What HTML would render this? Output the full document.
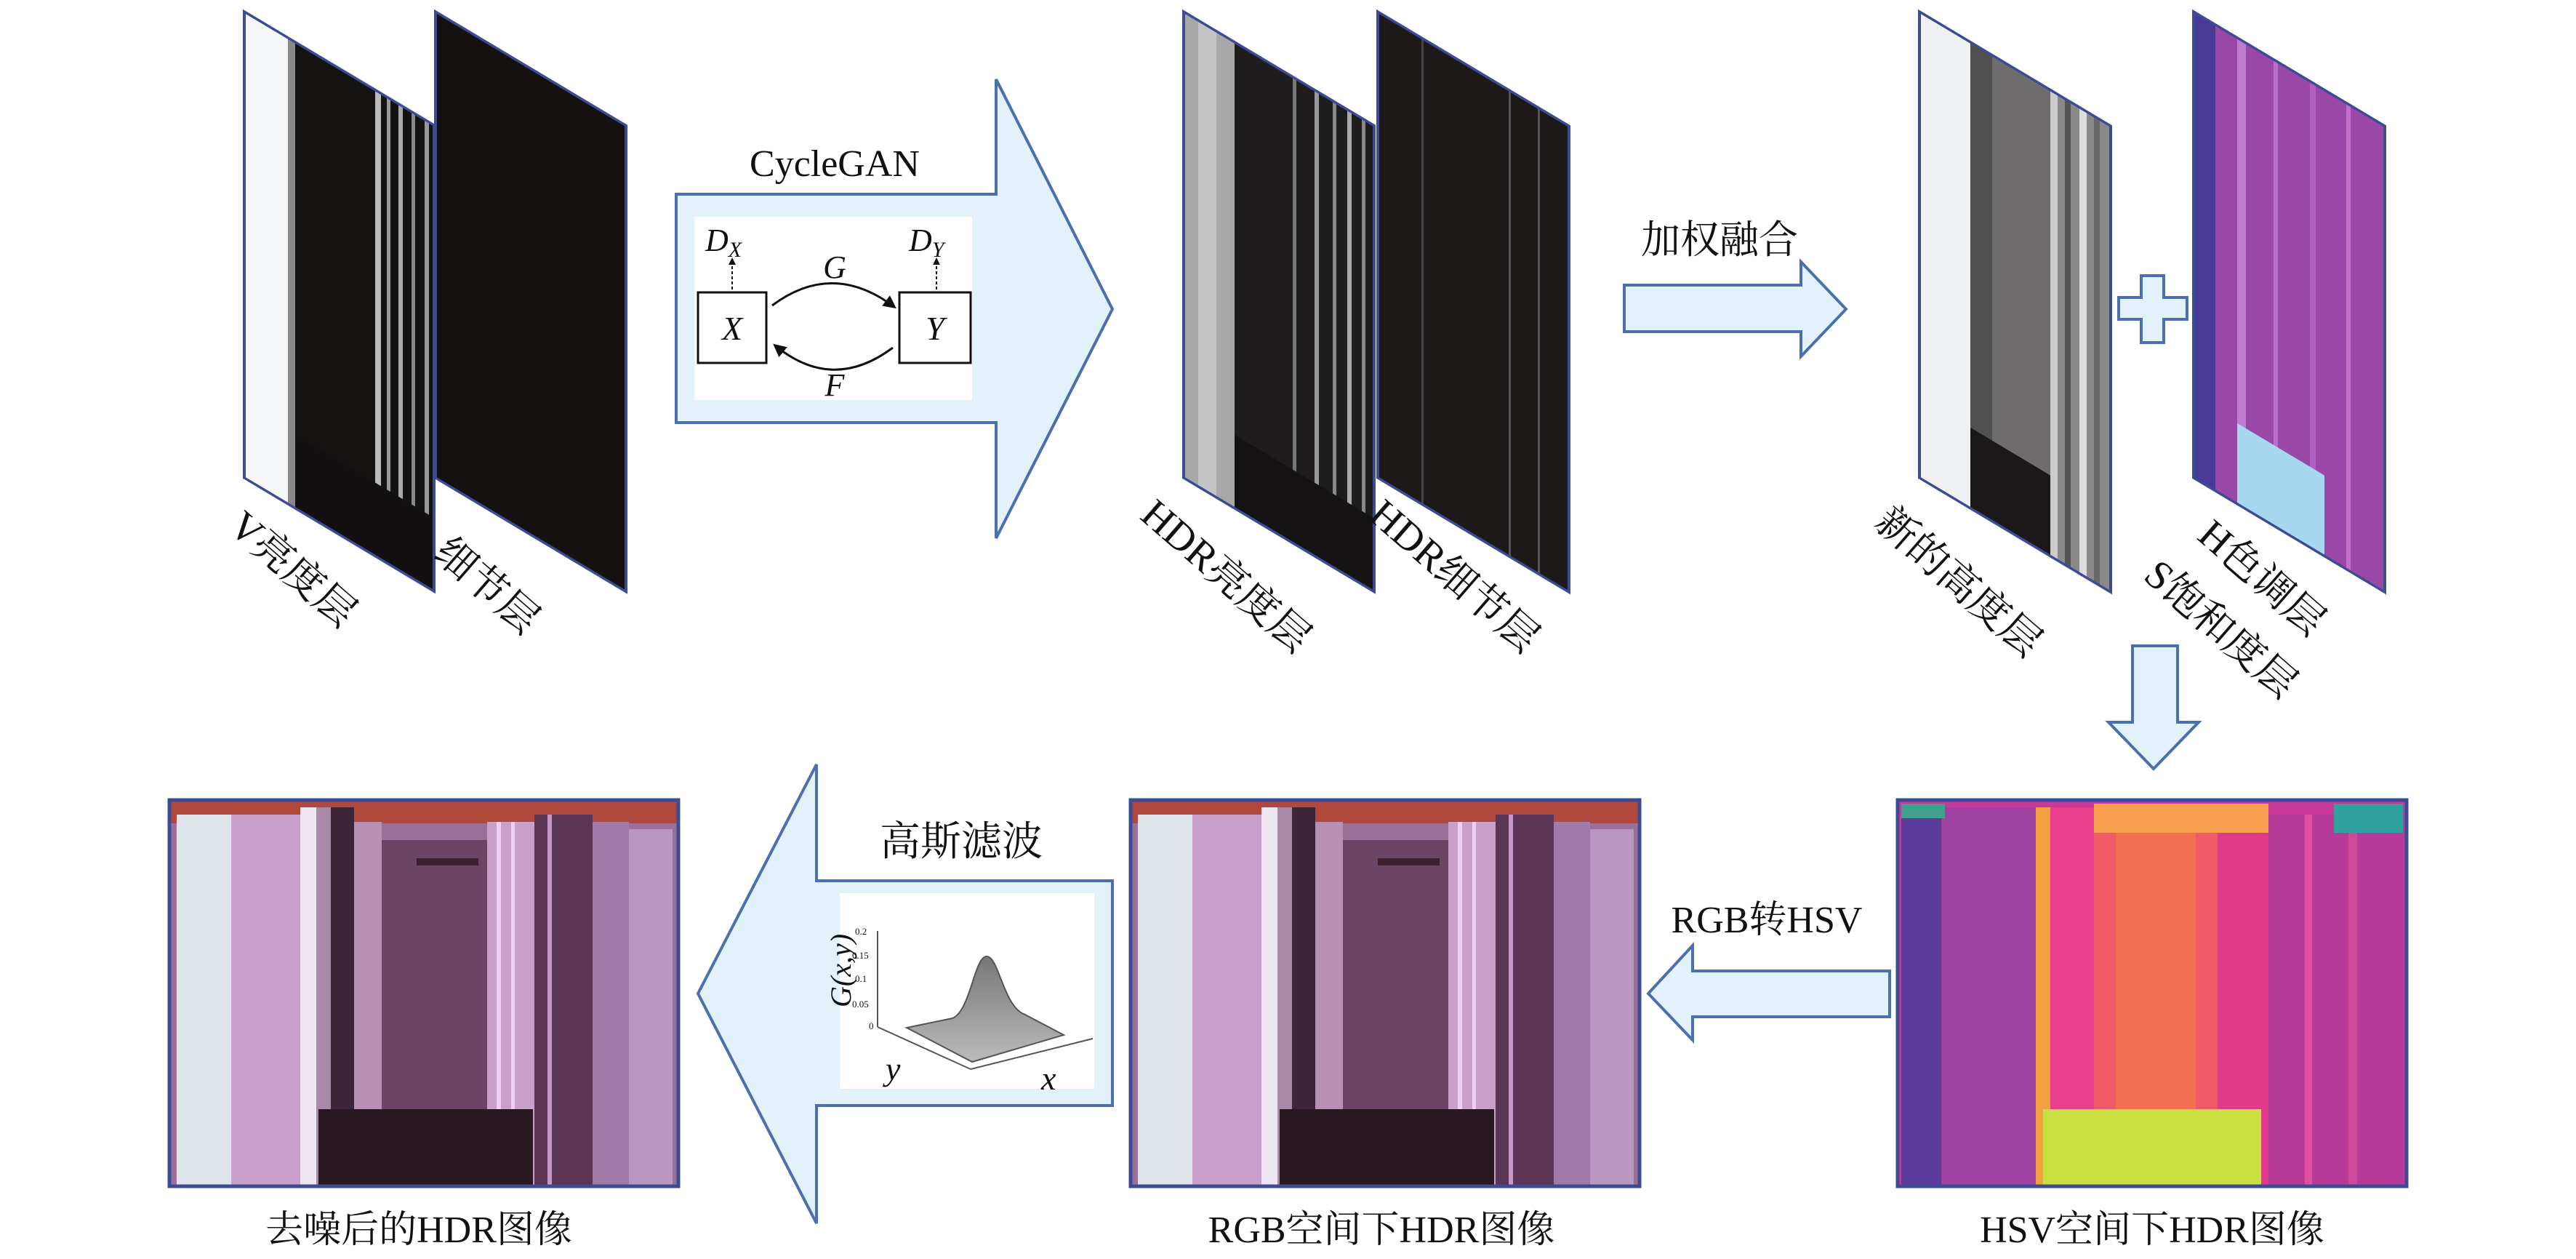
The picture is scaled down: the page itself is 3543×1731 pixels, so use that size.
<!DOCTYPE html>
<html><head><meta charset="utf-8"><style>
html,body{margin:0;padding:0;background:#fff;}
svg{display:block;}
text{font-family:"Liberation Serif","Noto Serif CJK SC",serif;fill:#111;}
.lbl{font-size:52px;}
.pl{font-size:56px;}
.it{font-style:italic;}
</style></head><body>
<svg width="3543" height="1731" viewBox="0 0 3543 1731" xmlns="http://www.w3.org/2000/svg">
<defs>
<marker id="ah" viewBox="0 0 10 10" refX="8" refY="5" markerWidth="6" markerHeight="6" orient="auto"><path d="M0,0 L10,5 L0,10 z" fill="#111"/></marker>
<marker id="ah2" viewBox="0 0 10 10" refX="8" refY="5" markerWidth="5" markerHeight="5" orient="auto"><path d="M0,0 L10,5 L0,10 z" fill="#111"/></marker>
<linearGradient id="bump" x1="0" y1="0" x2="0" y2="1"><stop offset="0" stop-color="#777"/><stop offset="1" stop-color="#bbb"/></linearGradient>
<g id="rgbimg">
<rect x="0" y="0" width="700" height="530" fill="#9a7098"/>
<rect x="0" y="0" width="700" height="32" fill="#b0483c"/>
<rect x="10" y="20" width="75" height="510" fill="#dfe3ea"/>
<rect x="85" y="20" width="95" height="510" fill="#c8a0cc"/>
<rect x="180" y="10" width="22" height="520" fill="#eee6f0"/>
<rect x="202" y="10" width="20" height="520" fill="#a88aa8"/>
<rect x="222" y="10" width="32" height="520" fill="#3e2438"/>
<rect x="254" y="30" width="38" height="500" fill="#b890b4"/>
<rect x="292" y="55" width="145" height="475" fill="#6a4565"/>
<rect x="437" y="30" width="65" height="500" fill="#c8a0c8"/>
<rect x="450" y="30" width="6" height="500" fill="#f0d0f0"/>
<rect x="470" y="30" width="5" height="500" fill="#f0d0f0"/>
<rect x="502" y="20" width="80" height="510" fill="#5a3555"/>
<rect x="520" y="20" width="6" height="510" fill="#c898c8"/>
<rect x="582" y="30" width="50" height="500" fill="#a07aa8"/>
<rect x="632" y="40" width="60" height="490" fill="#b898c0"/>
<rect x="205" y="425" width="295" height="105" fill="#2a1820"/>
<rect x="340" y="80" width="85" height="10" fill="#3a2030"/>
</g>
</defs>

<!-- Top panels -->
<g transform="matrix(1,0.5977,0,1,336,16)">
<rect width="261" height="641" fill="#151212"/>
<rect width="60" height="641" fill="#f4f6f8"/>
<rect x="60" width="10" height="641" fill="#888"/>
<rect x="180" width="8" height="641" fill="#bbb"/>
<rect x="196" width="5" height="641" fill="#999"/>
<rect x="212" width="6" height="641" fill="#aaa"/>
<rect x="230" width="5" height="641" fill="#888"/>
<rect x="248" width="6" height="641" fill="#999"/>
<rect x="70" y="540" width="191" height="101" fill="#121010"/>
<rect width="261" height="641" fill="none" stroke="#3d4b95" stroke-width="4"/>
</g>
<g transform="matrix(1,0.5977,0,1,599,16)">
<rect width="262" height="641" fill="#151110"/>
<rect width="262" height="641" fill="none" stroke="#3d4b95" stroke-width="4"/>
</g>
<g transform="matrix(1,0.5977,0,1,1628,16)">
<rect width="262" height="641" fill="#1e1c1c"/>
<rect width="70" height="641" fill="#a8a8a8"/>
<rect x="20" width="25" height="641" fill="#c4c4c4"/>
<rect x="150" width="5" height="641" fill="#777"/>
<rect x="180" width="6" height="641" fill="#999"/>
<rect x="205" width="5" height="641" fill="#888"/>
<rect x="225" width="6" height="641" fill="#aaa"/>
<rect x="245" width="5" height="641" fill="#888"/>
<rect x="70" y="540" width="192" height="101" fill="#141212"/>
<rect width="262" height="641" fill="none" stroke="#3d4b95" stroke-width="4"/>
</g>
<g transform="matrix(1,0.5977,0,1,1895,16)">
<rect width="263" height="641" fill="#1c1918"/>
<rect x="60" width="3" height="641" fill="#444"/>
<rect x="180" width="3" height="641" fill="#555"/>
<rect x="220" width="3" height="641" fill="#555"/>
<rect width="263" height="641" fill="none" stroke="#3d4b95" stroke-width="4"/>
</g>
<g transform="matrix(1,0.5977,0,1,2640,16)">
<rect width="263" height="641" fill="#8a8888"/>
<rect width="70" height="641" fill="#eef0f2"/>
<rect x="70" width="30" height="641" fill="#505050"/>
<rect x="100" width="80" height="641" fill="#6e6c6c"/>
<rect x="180" width="10" height="641" fill="#ccc"/>
<rect x="200" width="8" height="641" fill="#555"/>
<rect x="220" width="10" height="641" fill="#ddd"/>
<rect x="240" width="8" height="641" fill="#666"/>
<rect x="70" y="530" width="110" height="111" fill="#1a1818"/>
<rect width="263" height="641" fill="none" stroke="#3d4b95" stroke-width="4"/>
</g>
<g transform="matrix(1,0.5977,0,1,3017,16)">
<rect width="263" height="641" fill="#9a48a8"/>
<rect width="30" height="641" fill="#4a3a98"/>
<rect x="60" width="12" height="641" fill="#c07ad0"/>
<rect x="110" width="6" height="641" fill="#b870c8"/>
<rect x="160" width="8" height="641" fill="#b060c0"/>
<rect x="210" width="6" height="641" fill="#c070c8"/>
<rect x="60" y="530" width="120" height="111" fill="#a8d8f0"/>
<rect width="263" height="641" fill="none" stroke="#3d4b95" stroke-width="4"/>
</g>

<!-- Panel labels -->
<text class="pl" transform="translate(312,728) rotate(41)">V亮度层</text>
<text class="pl" transform="translate(594,764) rotate(41)">细节层</text>
<text class="pl" transform="translate(1566,712) rotate(41)">HDR亮度层</text>
<text class="pl" transform="translate(1880,712) rotate(41)">HDR细节层</text>
<text class="pl" transform="translate(2576,722) rotate(41)">新的高度层</text>
<text class="pl" transform="translate(3020,740) rotate(41)">H色调层</text>
<text class="pl" transform="translate(2946,795) rotate(41)">S饱和度层</text>

<!-- CycleGAN arrow -->
<polygon points="930,267 1370,267 1370,109 1530,425 1370,740 1370,581 930,581" fill="#e2f1fa" stroke="#4c6fae" stroke-width="4"/>
<text x="1148" y="242" font-size="52" text-anchor="middle">CycleGAN</text>
<rect x="955" y="298" width="382" height="252" fill="#fff"/>
<rect x="960" y="402" width="94" height="97" fill="none" stroke="#111" stroke-width="3"/>
<rect x="1237" y="402" width="98" height="97" fill="none" stroke="#111" stroke-width="3"/>
<text x="1007" y="467" font-size="46" class="it" text-anchor="middle">X</text>
<text x="1286" y="467" font-size="46" class="it" text-anchor="middle">Y</text>
<path d="M1062,420 Q1145,358 1230,422" fill="none" stroke="#111" stroke-width="3" marker-end="url(#ah)"/>
<path d="M1228,478 Q1145,540 1066,475" fill="none" stroke="#111" stroke-width="3" marker-end="url(#ah)"/>
<text x="1148" y="382" font-size="44" class="it" text-anchor="middle">G</text>
<text x="1148" y="544" font-size="44" class="it" text-anchor="middle">F</text>
<line x1="1007" y1="398" x2="1007" y2="356" stroke="#111" stroke-width="2" stroke-dasharray="4,3" marker-end="url(#ah2)"/>
<line x1="1288" y1="398" x2="1288" y2="356" stroke="#111" stroke-width="2" stroke-dasharray="4,3" marker-end="url(#ah2)"/>
<text x="970" y="345" font-size="44" class="it">D<tspan font-size="30" dy="8">X</tspan></text>
<text x="1250" y="345" font-size="44" class="it">D<tspan font-size="30" dy="8">Y</tspan></text>

<!-- Fusion arrow -->
<text x="2365" y="348" font-size="54" text-anchor="middle">加权融合</text>
<polygon points="2234,392 2477,392 2477,360 2539,425 2477,490 2477,456 2234,456" fill="#e2f1fa" stroke="#4c6fae" stroke-width="4"/>
<!-- plus -->
<polygon points="2945,379 2976,379 2976,409 3008,409 3008,439 2976,439 2976,471 2945,471 2945,439 2914,439 2914,409 2945,409" fill="#e2f1fa" stroke="#4c6fae" stroke-width="4"/>
<!-- down arrow -->
<polygon points="2933,888 2995,888 2995,993 3024,993 2962,1057 2900,993 2933,993" fill="#e2f1fa" stroke="#4c6fae" stroke-width="4"/>

<!-- Bottom images -->
<g transform="translate(233,1100)"><use href="#rgbimg"/><rect width="700" height="531" fill="none" stroke="#3d4b95" stroke-width="5"/></g>
<g transform="translate(1555,1100)"><use href="#rgbimg"/><rect width="700" height="531" fill="none" stroke="#3d4b95" stroke-width="5"/></g>
<g transform="translate(2610,1100)">
<rect width="700" height="531" fill="#c83a9a"/>
<rect x="5" y="10" width="55" height="520" fill="#5a3a9a"/>
<rect x="60" y="10" width="130" height="520" fill="#a040a0"/>
<rect x="190" y="10" width="20" height="520" fill="#f0a040"/>
<rect x="210" y="10" width="60" height="520" fill="#e8408e"/>
<rect x="270" y="10" width="170" height="520" fill="#f05a68"/>
<rect x="300" y="10" width="110" height="520" fill="#f07050"/>
<rect x="440" y="10" width="70" height="520" fill="#e03a8a"/>
<rect x="510" y="20" width="190" height="510" fill="#b83a98"/>
<rect x="560" y="20" width="10" height="510" fill="#e050a0"/>
<rect x="620" y="20" width="12" height="510" fill="#d04898"/>
<rect x="270" y="5" width="240" height="40" fill="#f8a050"/>
<rect x="600" y="5" width="95" height="40" fill="#30a0a0"/>
<rect x="5" y="5" width="60" height="20" fill="#40a090"/>
<rect x="200" y="425" width="300" height="105" fill="#c8e040"/>
<rect width="700" height="531" fill="none" stroke="#3d4b95" stroke-width="5"/>
</g>

<!-- Gaussian arrow -->
<polygon points="1530,1211 1123,1211 1123,1051 960,1366 1123,1682 1123,1520 1530,1520" fill="#e2f1fa" stroke="#4c6fae" stroke-width="4"/>
<text x="1322" y="1176" font-size="56" text-anchor="middle">高斯滤波</text>
<rect x="1155" y="1228" width="350" height="269" fill="#fff"/>
<line x1="1207" y1="1280" x2="1207" y2="1412" stroke="#555" stroke-width="2"/>
<line x1="1207" y1="1412" x2="1335" y2="1470" stroke="#555" stroke-width="2"/>
<line x1="1335" y1="1470" x2="1503" y2="1428" stroke="#555" stroke-width="2"/>
<polygon points="1247,1413 1310,1400 1463,1423 1337,1460" fill="#8a8484"/>
<path d="M1310,1400 C1335,1390 1340,1315 1357,1315 C1374,1315 1380,1385 1410,1395 L1463,1423 L1337,1460 L1247,1413 Z" fill="url(#bump)" stroke="#555" stroke-width="2"/>
<text x="1176" y="1285" font-size="13">0.2</text>
<text x="1172" y="1318" font-size="13">0.15</text>
<text x="1176" y="1350" font-size="13">0.1</text>
<text x="1172" y="1385" font-size="13">0.05</text>
<text x="1195" y="1415" font-size="13">0</text>
<text transform="translate(1170,1385) rotate(-90)" font-size="40" class="it">G(x,y)</text>
<text x="1218" y="1485" font-size="46" class="it">y</text>
<text x="1432" y="1498" font-size="46" class="it">x</text>

<!-- RGB转HSV arrow -->
<polygon points="2599,1335 2328,1335 2328,1300 2267,1366 2328,1430 2328,1398 2599,1398" fill="#e2f1fa" stroke="#4c6fae" stroke-width="4"/>
<text x="2430" y="1282" font-size="52" text-anchor="middle">RGB转HSV</text>

<!-- Bottom labels -->
<text class="lbl" x="576" y="1708" text-anchor="middle">去噪后的HDR图像</text>
<text class="lbl" x="1900" y="1708" text-anchor="middle">RGB空间下HDR图像</text>
<text class="lbl" x="2960" y="1708" text-anchor="middle">HSV空间下HDR图像</text>
</svg>
</body></html>
